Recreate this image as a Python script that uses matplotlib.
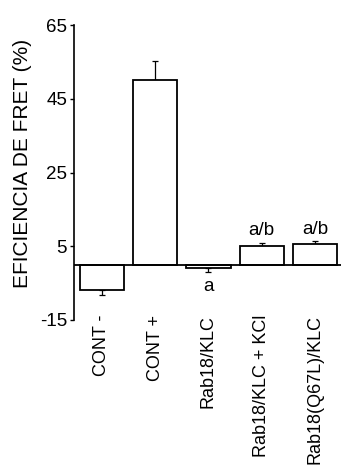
import matplotlib
matplotlib.use("Agg")
import matplotlib.pyplot as plt
import numpy as np

plt.rcParams['font.family'] = ['Liberation Sans', 'DejaVu Sans']

categories = ["CONT -", "CONT +", "Rab18/KLC", "Rab18/KLC + KCl", "Rab18(Q67L)/KLC"]
values = [-6.9, 50.0, -1.0, 5.1, 5.6]
errors = [1.3, 5.2, 1.1, 0.8, 0.7]
annotations = ["", "", "a", "a/b", "a/b"]
yticks = [-15, 5, 25, 45, 65]

fig = plt.figure(figsize=(3.41, 4.65), dpi=100)
ax = fig.add_axes([0.217, 0.312, 0.785, 0.634])

x = np.arange(len(categories))
ax.bar(x, values, width=0.83, color='white', edgecolor='black', linewidth=1.3, zorder=2)

lower = [e if v < 0 else 0 for v, e in zip(values, errors)]
upper = [e if v >= 0 else 0 for v, e in zip(values, errors)]
ax.errorbar(x, values, yerr=[lower, upper], fmt='none', ecolor='black',
            elinewidth=0.9, capsize=2.5, capthick=0.9, zorder=1)

ax.axhline(0, color='black', linewidth=1.3, zorder=3)

for xi, v, e, t in zip(x, values, errors, annotations):
    if not t:
        continue
    if v >= 0:
        ax.text(xi, v + e + 1.0, t, ha='center', va='bottom', fontsize=13.5)
    else:
        ax.text(xi, v - e - 1.6, t, ha='center', va='top', fontsize=13.5)

ax.set_xlim(-0.52, 4.5)
ax.set_ylim(-15, 65)
ax.set_yticks(yticks)
ax.set_yticklabels([str(t) for t in yticks], fontsize=13.5)
ax.set_xticks(x)
ax.set_xticklabels(categories, rotation=90, fontsize=13)
ax.tick_params(axis='x', length=0, pad=-3.5)
ax.tick_params(axis='y', length=3, width=1, pad=2)

for s in ['top', 'right', 'bottom']:
    ax.spines[s].set_visible(False)
ax.spines['left'].set_linewidth(1.2)

ax.set_ylabel("EFICIENCIA DE FRET (%)", fontsize=15)
ax.yaxis.set_label_coords(-0.157, 0.53)

fig.savefig("out.png", dpi=100)
